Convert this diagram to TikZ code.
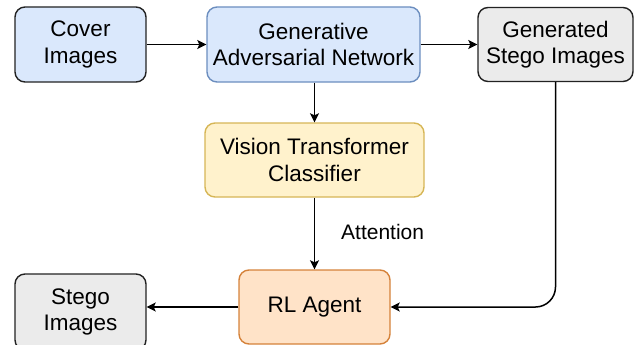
\documentclass[tikz,border=0pt]{standalone}
\usepackage{fontspec}
\setmainfont{Liberation Sans}
\usetikzlibrary{arrows.meta}
\definecolor{bluefill}{HTML}{DAE8FC}
\definecolor{blueline}{HTML}{6C8EBF}
\definecolor{grayfill}{HTML}{EBEBEB}
\definecolor{yelfill}{HTML}{FFF2CC}
\definecolor{yelline}{HTML}{D6B656}
\definecolor{orfill}{HTML}{FFE3C8}
\definecolor{orline}{HTML}{D5823A}
\definecolor{darkline}{HTML}{222222}
\tikzset{
  box/.style={draw=darkline, line width=1.4pt, rounded corners=10pt, align=center,
    inner sep=0pt, font=\fontsize{22.5}{26.5}\selectfont, text=black},
  conn/.style={line width=1.5pt, draw=black, -{Stealth[length=9pt,width=9pt,inset=2pt]}},
}
\begin{document}
\begin{tikzpicture}[x=1pt,y=-1pt]
\useasboundingbox (0,0) rectangle (634,345);
\node[box, fill=bluefill, minimum width=131pt, minimum height=75pt] (cover) at (80.5,44.5) {Cover\\Images};
\node[box, fill=bluefill, draw=blueline, minimum width=213pt, minimum height=75pt] (gan) at (313.5,44.5) {Generative\\Adversarial Network};
\node[box, fill=grayfill, minimum width=155pt, minimum height=74pt] (gs) at (555.5,44.5) {Generated\\Stego Images};
\node[box, fill=yelfill, draw=yelline, minimum width=219pt, minimum height=74pt] (vit) at (314.5,160) {Vision Transformer\\Classifier};
\node[box, fill=orfill, draw=orline, minimum width=151pt, minimum height=74pt] (rl) at (314.5,307) {RL Agent};
\node[box, fill=grayfill, minimum width=131pt, minimum height=76pt] (stego) at (80.5,312) {Stego\\Images};
\node[font=\fontsize{21}{24}\selectfont, anchor=west, inner sep=0pt] (att) at (341,232) {Attention};
\draw[conn] (cover) -- (gan);
\draw[conn] (gan) -- (gs);
\draw[conn] (gan.south -| vit.north) -- (vit.north);
\draw[conn] (vit) -- (rl);
\draw[conn] (rl.west) -- (rl.west -| stego.east);
\draw[conn, rounded corners=20pt] (gs.south) |- (rl.east);
\end{tikzpicture}
\end{document}
